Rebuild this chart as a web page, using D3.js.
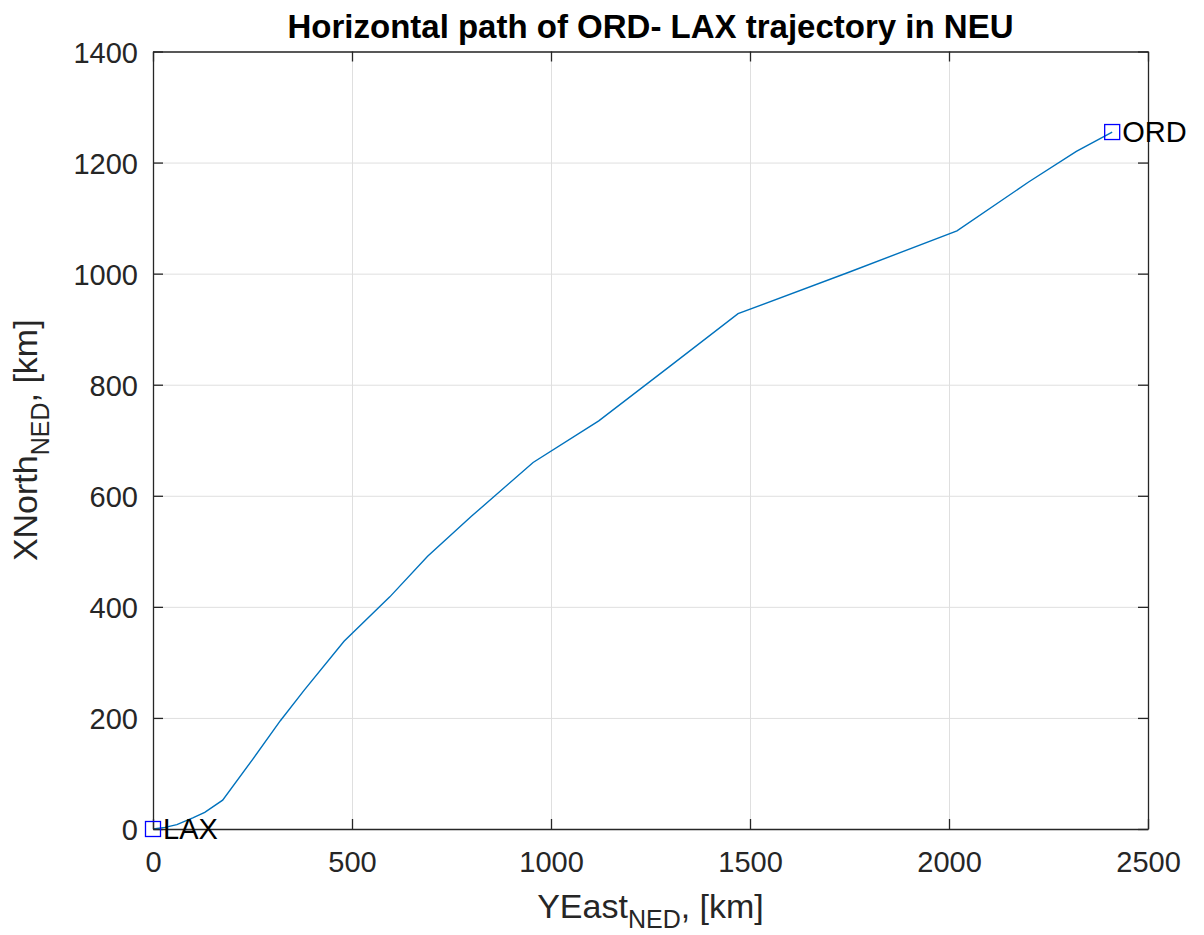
<!DOCTYPE html>
<html>
<head>
<meta charset="utf-8">
<script src="https://cdn.jsdelivr.net/npm/d3@7"></script>
<style>
  body { margin: 0; background: #fff; }
  text { font-family: "Liberation Sans", Arial, Helvetica, sans-serif; }
</style>
</head>
<body>
<svg id="chart" width="1204" height="935"></svg>
<script>
// trajectory, km
var yEast = [0, 30, 60, 100, 130, 175, 250, 320, 380, 480, 595, 690, 800, 955, 1120, 1300, 1470, 1750, 2020, 2200, 2320, 2410];
var xNorth = [0, 3, 8, 20, 30, 52, 125, 195, 250, 338, 418, 491, 563, 660, 735, 834, 928, 1003, 1077, 1165, 1220, 1255];

var cityNames = ["LAX", "ORD"];
var cityEast = [0, 2410];
var cityNorth = [0, 1255];

var xTicks = [0, 500, 1000, 1500, 2000, 2500];
var yTicks = [0, 200, 400, 600, 800, 1000, 1200, 1400];

var svg = d3.select("#chart"),
  margin = { top: 51.5, right: 56, bottom: 106, left: 153 },
  width = +svg.attr("width") - margin.left - margin.right,
  height = +svg.attr("height") - margin.top - margin.bottom,
  g = svg.append("g").attr("transform", "translate(" + margin.left + "," + margin.top + ")");

var x = d3.scaleLinear().domain([0, 2500]).range([0, width]),
  y = d3.scaleLinear().domain([0, 1400]).range([height, 0]);

var axisColor = "#262626";
var fmt = d3.format("d");

// grid
g.append("g")
  .attr("class", "grid")
  .attr("transform", "translate(0," + height + ")")
  .call(d3.axisBottom(x).tickValues(xTicks).tickSize(-height).tickFormat(""))
  .call(function(s) { s.select(".domain").remove(); })
  .selectAll("line").attr("stroke", "#dfdfdf");

g.append("g")
  .attr("class", "grid")
  .call(d3.axisLeft(y).tickValues(yTicks).tickSize(-width).tickFormat(""))
  .call(function(s) { s.select(".domain").remove(); })
  .selectAll("line").attr("stroke", "#dfdfdf");

// path
var line = d3.line()
  .x(function(d) { return x(d[0]); })
  .y(function(d) { return y(d[1]); })
  .curve(d3.curveLinear);

g.append("path")
  .datum(d3.zip(yEast, xNorth))
  .attr("fill", "none")
  .attr("stroke", "#0072BD")
  .attr("stroke-width", 1.4)
  .attr("d", line);

// axes, ticks pointing inward on all four sides
function styleAxis(s) {
  s.select(".domain").attr("stroke", axisColor).attr("stroke-width", 1.3);
  s.selectAll(".tick line").attr("stroke", axisColor).attr("stroke-width", 1.3);
  s.selectAll(".tick text").attr("fill", axisColor).style("font-size", "29px");
}

g.append("g")
  .attr("transform", "translate(0," + height + ")")
  .call(d3.axisBottom(x).tickValues(xTicks).tickFormat(fmt).tickSizeInner(-10).tickSizeOuter(0).tickPadding(22))
  .call(styleAxis);

g.append("g")
  .call(d3.axisLeft(y).tickValues(yTicks).tickFormat(fmt).tickSizeInner(-10).tickSizeOuter(0).tickPadding(15))
  .call(styleAxis)
  .selectAll(".tick text").attr("dy", "0.37em");

g.append("g")
  .call(d3.axisTop(x).tickValues(xTicks).tickSizeInner(-10).tickSizeOuter(0).tickFormat(""))
  .call(styleAxis);

g.append("g")
  .attr("transform", "translate(" + width + ",0)")
  .call(d3.axisRight(y).tickValues(yTicks).tickSizeInner(-10).tickSizeOuter(0).tickFormat(""))
  .call(styleAxis);

// city markers
var cities = cityNames.map(function(n, i) {
  return { name: n, e: cityEast[i], n: cityNorth[i] };
});

g.selectAll(".city")
  .data(cities)
  .enter()
  .append("rect")
  .attr("class", "city")
  .attr("x", function(d) { return x(d.e) - 7.5; })
  .attr("y", function(d) { return y(d.n) - 7.5; })
  .attr("width", 15)
  .attr("height", 15)
  .attr("fill", "none")
  .attr("stroke", "#0000ff")
  .attr("stroke-width", 1.3);

g.selectAll(".cityLabel")
  .data(cities)
  .enter()
  .append("text")
  .attr("class", "cityLabel")
  .attr("x", function(d) { return x(d.e) + 10; })
  .attr("y", function(d) { return y(d.n); })
  .attr("dy", "0.36em")
  .attr("fill", "#000")
  .style("font-size", "29px")
  .text(function(d) { return d.name; });

// title
svg.append("text")
  .attr("x", margin.left + width / 2)
  .attr("y", 38)
  .attr("text-anchor", "middle")
  .attr("fill", "#000")
  .style("font-size", "33px")
  .style("font-weight", "bold")
  .text("Horizontal path of ORD- LAX trajectory in NEU");

// axis labels with subscripts
var xLabel = svg.append("text")
  .attr("x", margin.left + width / 2)
  .attr("y", 918)
  .attr("text-anchor", "middle")
  .attr("fill", axisColor)
  .style("font-size", "34px");
xLabel.append("tspan").text("YEast");
xLabel.append("tspan").attr("dy", 10).style("font-size", "25px").text("NED");
xLabel.append("tspan").attr("dy", -10).text(", [km]");

var yLabel = svg.append("text")
  .attr("transform", "translate(37," + (margin.top + height / 2) + ") rotate(-90)")
  .attr("text-anchor", "middle")
  .attr("fill", axisColor)
  .style("font-size", "34px");
yLabel.append("tspan").text("XNorth");
yLabel.append("tspan").attr("dy", 12).style("font-size", "25px").text("NED");
yLabel.append("tspan").attr("dy", -12).text(", [km]");
</script>
</body>
</html>
